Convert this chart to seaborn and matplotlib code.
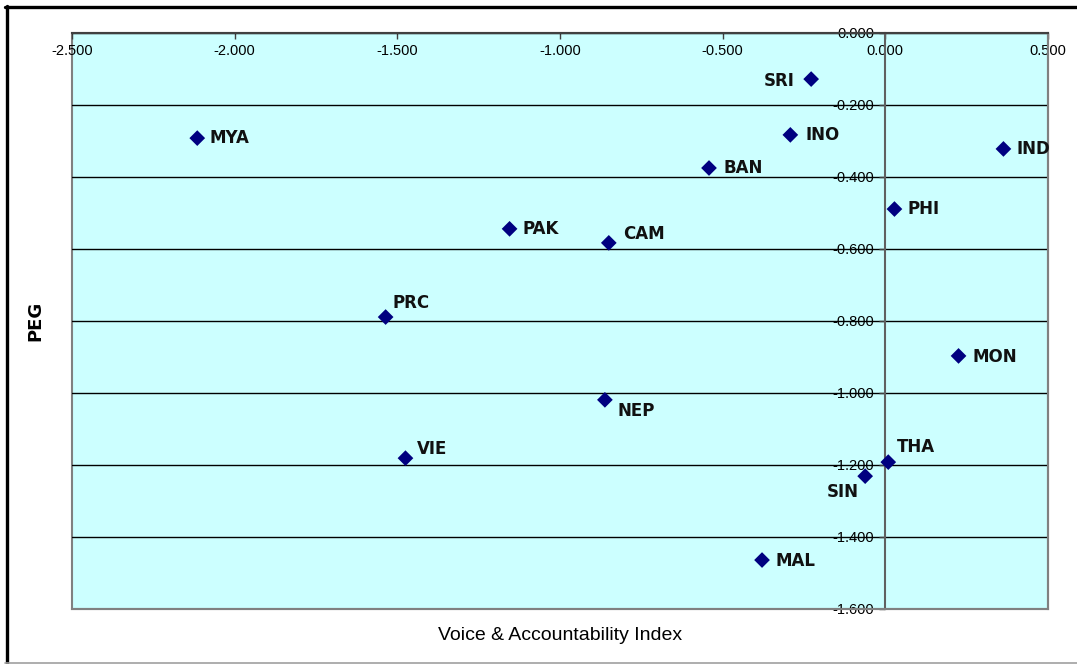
import matplotlib
matplotlib.use("Agg")
import matplotlib.pyplot as plt
from matplotlib.lines import Line2D
import seaborn as sns
import pandas as pd

# ---- data ----
countries = ["MYA", "SRI", "INO", "IND", "BAN", "PHI", "PAK", "CAM",
             "PRC", "MON", "NEP", "VIE", "THA", "SIN", "MAL"]
voice = [-2.115, -0.228, -0.292, 0.363, -0.542, 0.028, -1.155, -0.850,
         -1.536, 0.225, -0.862, -1.475, 0.009, -0.062, -0.379]
peg = [-0.292, -0.128, -0.283, -0.322, -0.375, -0.489, -0.544, -0.583,
       -0.789, -0.897, -1.019, -1.181, -1.192, -1.231, -1.464]
x_ticks = [-2.5, -2.0, -1.5, -1.0, -0.5, 0.0, 0.5]
x_tick_labels = ["-2.500", "-2.000", "-1.500", "-1.000", "-0.500", "0.000", "0.500"]
y_ticks = [0.0, -0.2, -0.4, -0.6, -0.8, -1.0, -1.2, -1.4, -1.6]
y_tick_labels = ["0.000", "-0.200", "-0.400", "-0.600", "-0.800", "-1.000",
                 "-1.200", "-1.400", "-1.600"]
x_title = "Voice & Accountability Index"
y_title = "PEG"

# label placement (offset in pixels, horizontal alignment)
label_offsets = {
    "MYA": (12, 0, "left"), "SRI": (-17, -2, "right"), "INO": (15, 0, "left"),
    "IND": (13, 0, "left"), "BAN": (14, 0, "left"), "PHI": (13, 0, "left"),
    "PAK": (13, 0, "left"), "CAM": (14, 9, "left"), "PRC": (7, 14, "left"),
    "MON": (14, -1, "left"), "NEP": (13, -11, "left"), "VIE": (11, 9, "left"),
    "THA": (9, 15, "left"), "SIN": (-38, -16, "left"), "MAL": (13, -1, "left"),
}

sns.set_theme(style="white")
plt.rcParams["font.family"] = ["Liberation Sans", "DejaVu Sans"]

W, H = 1077, 664
fig = plt.figure(figsize=(W / 100, H / 100), dpi=100)
fig.patch.set_facecolor("white")
ax = fig.add_axes([72 / W, (H - 609) / H, 976 / W, 576 / H])
ax.set_facecolor("#CCFFFF")
ax.patch.set_edgecolor("#808080")
ax.patch.set_linewidth(1.5)

df = pd.DataFrame({"country": countries, "voice": voice, "peg": peg})
sns.scatterplot(data=df, x="voice", y="peg", marker="D", s=64,
                color="#000080", edgecolor="none", ax=ax, zorder=4)

for c, xv, yv in zip(countries, voice, peg):
    dx, dy, ha = label_offsets[c]
    ax.annotate(c, (xv, yv), xytext=(dx, dy), textcoords="offset pixels",
                ha=ha, va="center", fontsize=12, fontweight="bold",
                family=["DejaVu Sans"], color="#111111", zorder=5)

ax.set_xlim(-2.5, 0.5)
ax.set_ylim(-1.6, 0)
ax.set_xticks(x_ticks)
ax.set_xticklabels(x_tick_labels)
ax.set_yticks(y_ticks)
ax.set_yticklabels(y_tick_labels)

ax.yaxis.grid(True, color="black", linewidth=1)
ax.xaxis.grid(False)
ax.set_axisbelow(True)

# spines
ax.spines["left"].set_position(("data", 0))
ax.spines["left"].set_color("#606060")
ax.spines["left"].set_linewidth(1.5)
ax.spines["top"].set_visible(True)
ax.spines["top"].set_color("#404040")
ax.spines["top"].set_linewidth(1.5)
ax.spines["right"].set_color("#808080")
ax.spines["right"].set_linewidth(1.5)
ax.spines["bottom"].set_color("#808080")
ax.spines["bottom"].set_linewidth(1.5)

ax.xaxis.tick_top()
ax.tick_params(axis="x", which="both", top=True, bottom=False, labeltop=True,
               labelbottom=False, direction="in", length=4, width=1,
               color="#404040", pad=-18, labelsize=10.5, labelcolor="black")
ax.tick_params(axis="y", which="both", left=True, right=False, direction="out",
               length=4, width=1, color="#404040", pad=4, labelsize=10.5,
               labelcolor="black")

ax.set_xlabel("")
ax.set_ylabel("")
fig.text(560 / W, 1 - 636 / H, x_title, ha="center", va="center",
         fontsize=14, color="black")
fig.text(35 / W, 1 - 321 / H, y_title, ha="center", va="center",
         rotation=90, fontsize=13, fontweight="bold", family=["DejaVu Sans"],
         color="black")

# outer chart frame
fig.add_artist(Line2D([5 / W, 1.0], [1 - 7 / H, 1 - 7 / H], color="black",
                      linewidth=2.4, transform=fig.transFigure))
fig.add_artist(Line2D([6.5 / W, 6.5 / W], [0, 1 - 5.5 / H], color="black",
                      linewidth=2.4, transform=fig.transFigure))
fig.add_artist(Line2D([5 / W, 1.0], [1 - 662.5 / H, 1 - 662.5 / H],
                      color="#A0A0A0", linewidth=1.2, transform=fig.transFigure))

fig.savefig("out.png", dpi=100)
